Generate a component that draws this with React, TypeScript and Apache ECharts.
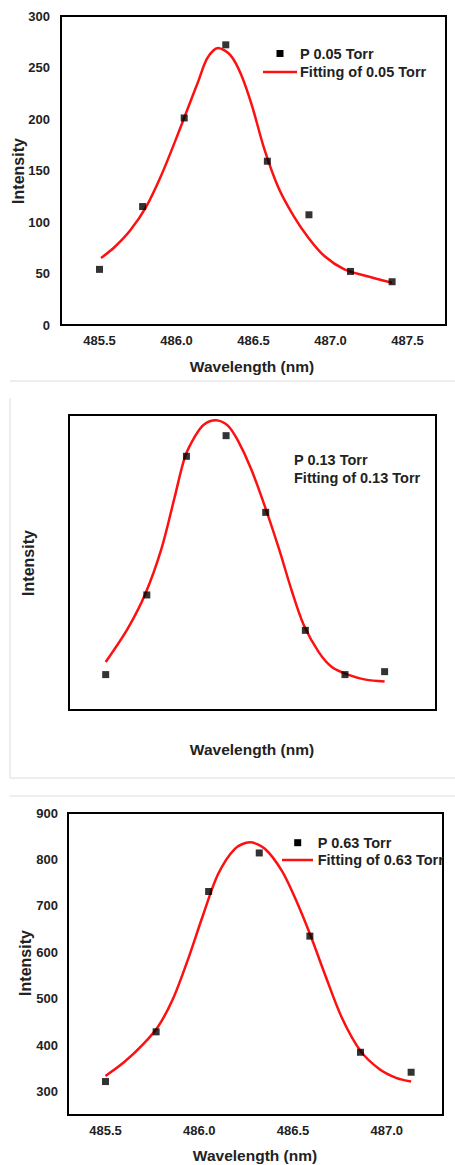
import React, { useEffect, useRef } from "react";
import * as echarts from "echarts";

// ---- Panel 1: 0.05 Torr ----
const scatterX1 = [485.5, 485.78, 486.05, 486.32, 486.59, 486.86, 487.13, 487.4];
const scatterY1 = [54, 115, 201, 272, 159, 107, 52, 42];
const fitX1 = [485.51, 485.6, 485.7, 485.8, 485.9, 485.99, 486.07, 486.14, 486.2, 486.27, 486.35, 486.42, 486.49, 486.57, 486.66, 486.76, 486.86, 486.96, 487.09, 487.22, 487.4];
const fitY1 = [65, 76, 92, 114, 145, 178, 209, 236, 259, 269, 262, 243, 213, 171, 134, 106, 84, 67, 54, 48, 41];
const xTicks1 = [485.5, 486.0, 486.5, 487.0, 487.5];

// ---- Panel 2: 0.13 Torr (no numeric axes in the source) ----
const scatterX2 = [485.5, 485.78, 486.05, 486.32, 486.59, 486.86, 487.13, 487.4];
const scatterY2 = [12, 39, 86, 93, 67, 27, 12, 13];
const fitX2 = [485.5, 485.65, 485.77, 485.88, 485.97, 486.04, 486.11, 486.17, 486.25, 486.33, 486.4, 486.49, 486.59, 486.68, 486.77, 486.85, 486.95, 487.04, 487.16, 487.27, 487.4];
const fitY2 = [16.3, 27.6, 39.4, 54.7, 72.2, 85.8, 92.9, 96.8, 98.2, 96.5, 91.4, 81.8, 68.2, 54.7, 40.0, 28.7, 19.7, 14.6, 11.8, 10.3, 9.7];

// ---- Panel 3: 0.63 Torr ----
const scatterX3 = [485.5, 485.77, 486.05, 486.32, 486.59, 486.86, 487.13];
const scatterY3 = [322, 429, 731, 814, 635, 385, 342];
const fitX3 = [485.5, 485.6, 485.7, 485.78, 485.86, 485.94, 486.02, 486.1, 486.19, 486.27, 486.35, 486.44, 486.51, 486.59, 486.67, 486.76, 486.86, 486.96, 487.05, 487.13];
const fitY3 = [334, 364, 402, 440, 500, 585, 680, 768, 823, 837, 823, 776, 718, 640, 553, 460, 388, 349, 330, 322];
const xTicks3 = [485.5, 486.0, 486.5, 487.0];
const yTicks3 = [300, 400, 500, 600, 700, 800, 900];

const legend1 = ["P 0.05 Torr", "Fitting of 0.05 Torr"];
const legend2 = ["P 0.13 Torr", "Fitting of 0.13 Torr"];
const legend3 = ["P 0.63 Torr", "Fitting of 0.63 Torr"];
const xTitle = "Wavelength (nm)";
const yTitle = "Intensity";

const FONT = 'Arial, "Liberation Sans", Helvetica, sans-serif';
const TXT = "#222";
const RED = "#ff1010";

const zip = (xs: number[], ys: number[]) => xs.map((x, i) => [x, ys[i]]);

const labelStyle = { color: TXT, fontWeight: "bold" as const, fontSize: 13, fontFamily: FONT };

function baseX(gridIndex: number, min: number, max: number, ticks: number[] | null) {
  return {
    type: "value",
    gridIndex,
    min,
    max,
    axisLine: { show: false },
    axisTick: { show: false },
    splitLine: { show: false },
    axisLabel: ticks
      ? { ...labelStyle, margin: 9, customValues: ticks, formatter: (v: number) => v.toFixed(1) }
      : { show: false },
  };
}

function text(x: number, y: number, str: string, opts: any = {}) {
  return {
    type: "text",
    x,
    y,
    rotation: opts.rotation || 0,
    z: 100,
    style: {
      text: str,
      fill: TXT,
      font: `bold ${opts.size || 14.5}px ${FONT}`,
      align: opts.align || "left",
      verticalAlign: "middle",
    },
  };
}

function hline(x1: number, x2: number, y: number, color: string, w: number) {
  return { type: "line", z: 100, shape: { x1, y1: y, x2, y2: y }, style: { stroke: color, lineWidth: w } };
}
function vline(x: number, y1: number, y2: number, color: string, w: number) {
  return { type: "line", z: 100, shape: { x1: x, y1, x2: x, y2 }, style: { stroke: color, lineWidth: w } };
}
function square(cx: number, cy: number) {
  return { type: "rect", z: 100, shape: { x: cx - 3.5, y: cy - 3.5, width: 7, height: 7 }, style: { fill: "#000" } };
}

function fitSeries(name: string, idx: number, xs: number[], ys: number[]) {
  return {
    name, type: "line", xAxisIndex: idx, yAxisIndex: idx, data: zip(xs, ys),
    smooth: 0.3, showSymbol: false,
    lineStyle: { color: RED, width: 2.5 }, itemStyle: { color: RED }, z: 2,
  };
}
function pointSeries(name: string, idx: number, xs: number[], ys: number[]) {
  return {
    name, type: "scatter", xAxisIndex: idx, yAxisIndex: idx, data: zip(xs, ys),
    symbol: "rect", symbolSize: 7, itemStyle: { color: "#000" }, z: 3,
  };
}

export default function App() {
  const ref = useRef<HTMLDivElement>(null);
  useEffect(() => {
    if (!ref.current) return;
    const chart = echarts.init(ref.current, undefined, { renderer: "svg" });
    const gridBase = { show: true, borderColor: "#000", borderWidth: 2, backgroundColor: "transparent", containLabel: false };
    const hiddenY = { axisLine: { show: false }, axisTick: { show: false }, splitLine: { show: false } };
    const option: any = {
      animation: false,
      backgroundColor: "#fff",
      grid: [
        { ...gridBase, left: 61, top: 16, width: 385, height: 309 },
        { ...gridBase, left: 69, top: 415, width: 367, height: 295 },
        { ...gridBase, left: 68, top: 813, width: 375, height: 302 },
      ],
      xAxis: [
        baseX(0, 485.25, 487.75, xTicks1),
        baseX(1, 485.25, 487.75, null),
        baseX(2, 485.3, 487.3, xTicks3),
      ],
      yAxis: [
        { type: "value", gridIndex: 0, min: 0, max: 300, interval: 50, ...hiddenY, axisLabel: { ...labelStyle, margin: 11 } },
        { type: "value", gridIndex: 1, min: 0, max: 100, ...hiddenY, axisLabel: { show: false } },
        { type: "value", gridIndex: 2, min: 250, max: 900, ...hiddenY, axisLabel: { ...labelStyle, margin: 10, customValues: yTicks3 } },
      ],
      series: [
        fitSeries(legend1[1], 0, fitX1, fitY1),
        pointSeries(legend1[0], 0, scatterX1, scatterY1),
        fitSeries(legend2[1], 1, fitX2, fitY2),
        pointSeries(legend2[0], 1, scatterX2, scatterY2),
        fitSeries(legend3[1], 2, fitX3, fitY3),
        pointSeries(legend3[0], 2, scatterX3, scatterY3),
      ],
      graphic: [
        // panel separators
        hline(10, 455, 381, "#dddddd", 1),
        vline(10, 398, 778, "#dddddd", 1),
        hline(10, 455, 778, "#dddddd", 1),
        hline(10, 455, 796, "#dddddd", 1),
        // panel 1 titles + legend
        text(18, 171, yTitle, { rotation: Math.PI / 2, align: "center", size: 16 }),
        text(252, 366, xTitle, { align: "center", size: 15.5 }),
        square(280, 53.5),
        text(300, 53.5, legend1[0]),
        hline(263, 297, 72, RED, 2.5),
        text(300, 72, legend1[1]),
        // panel 2
        text(28, 563, yTitle, { rotation: Math.PI / 2, align: "center", size: 16 }),
        text(252, 749, xTitle, { align: "center", size: 15.5 }),
        text(294, 460, legend2[0]),
        text(294, 477.5, legend2[1]),
        // panel 3
        text(25, 963, yTitle, { rotation: Math.PI / 2, align: "center", size: 16 }),
        text(255, 1155, xTitle, { align: "center", size: 15.5 }),
        square(297.7, 842.7),
        text(317.7, 843, legend3[0]),
        hline(282, 313, 860, RED, 2.5),
        text(317.7, 860, legend3[1]),
      ],
    };
    chart.setOption(option);
    return () => chart.dispose();
  }, []);
  return (
    <div
      ref={ref}
      style={{ position: "absolute", left: 0, top: 0, width: 455, height: 1165, background: "#fff" }}
    />
  );
}
